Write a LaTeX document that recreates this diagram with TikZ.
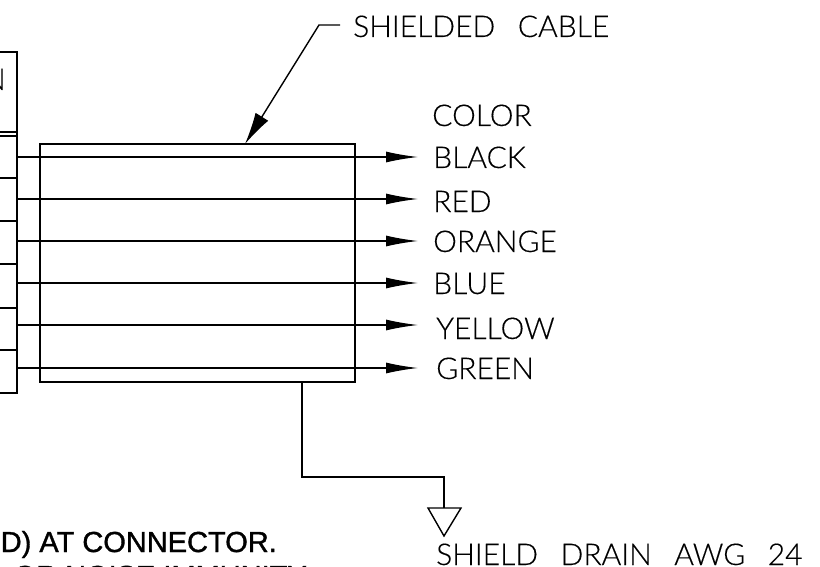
\documentclass[tikz,border=0pt]{standalone}
\usepackage{fontspec}
\setmainfont{Lato Light}[FakeBold=0.3]
\newfontfamily\notefont{Liberation Sans}[FakeBold=1.2]
\usetikzlibrary{arrows.meta}
\tikzset{
    wire/.style={line width=1.4pt, -{Latex[length=32pt, width=11pt]}},
    cadline/.style={line width=1.4pt},
    cadtext/.style={anchor=base west, inner sep=0pt, font=\fontsize{30}{30}\selectfont},
    notetext/.style={anchor=base east, inner sep=0pt, font=\notefont\fontsize{29}{29}\selectfont},
}
\begin{document}
\begin{tikzpicture}[x=1pt, y=-1pt]
        \useasboundingbox (0,0) rectangle (820,567);
        \def\wordgap{\hspace{0.75em}} % wide gap between words

        % Connector table at the left edge
        \draw[cadline] (0,52) -- (17,52) -- (17,393) -- (0,393);
        \draw[cadline] (0,132) -- (17,132);
        \draw[cadline] (0,136) -- (17,136);
        \foreach \rowy in {178,221,264,308,350} {
        \draw[cadline] (0,\rowy) -- (17,\rowy);
        }
        \node[cadtext, anchor=base east] (tablehead) at (6,90) {N};

        % Cable body
        \node[draw, line width=1.4pt, minimum width=315pt, minimum height=238pt, inner sep=0pt, outer sep=0pt, anchor=north west] (cable) at (40,144) {};

        % Wires with colour labels
        \node[cadtext] (colorhead) at (432,126) {COLOR};
        \foreach \i/\wirey/\labelx/\labely/\colorname in
        {
            1/157/433/168/BLACK,
            2/199/433/212/RED,
            3/241/433/252/ORANGE,
            4/283/433/294/BLUE,
            5/325/436/339/YELLOW,
            6/368/436/379/GREEN
        } {
        \node[cadtext] (color\i) at (\labelx,\labely) {\colorname};
        \coordinate (start\i) at (17,\wirey);
        \coordinate (end\i) at (418,\wirey);
        \draw[wire] (start\i) -- (end\i);
        }

        % Leader to the cable title
        \node[cadtext] (title) at (353,37) {SHIELDED\wordgap CABLE};
        \coordinate (knee) at (319,25);
        \coordinate (tail) at (340,25);
        \coordinate (tip) at (245,144);
        \draw[cadline, -{Latex[length=32pt, width=15pt]}] (tail) -- (knee) -- (tip);

        % Shield drain
        \node[cadtext] (drain) at (436,565) {SHIELD\wordgap DRAIN\wordgap AWG\wordgap 24};
        \coordinate (tap) at (302,382);
        \coordinate (groundtop) at (444,508);
        \draw[cadline] (tap) -- (302,477) -- (444,477) -- (groundtop);
        \draw[cadline] (428,508) -- (461,508) -- (444,536) -- cycle;

        % Note cut off by the edges
        \node[notetext] (note) at (277,552) {D) AT CONNECTOR.};
        \node[notetext] (notenext) at (307,586) {OR NOISE IMMUNITY};
\end{tikzpicture}
\end{document}
